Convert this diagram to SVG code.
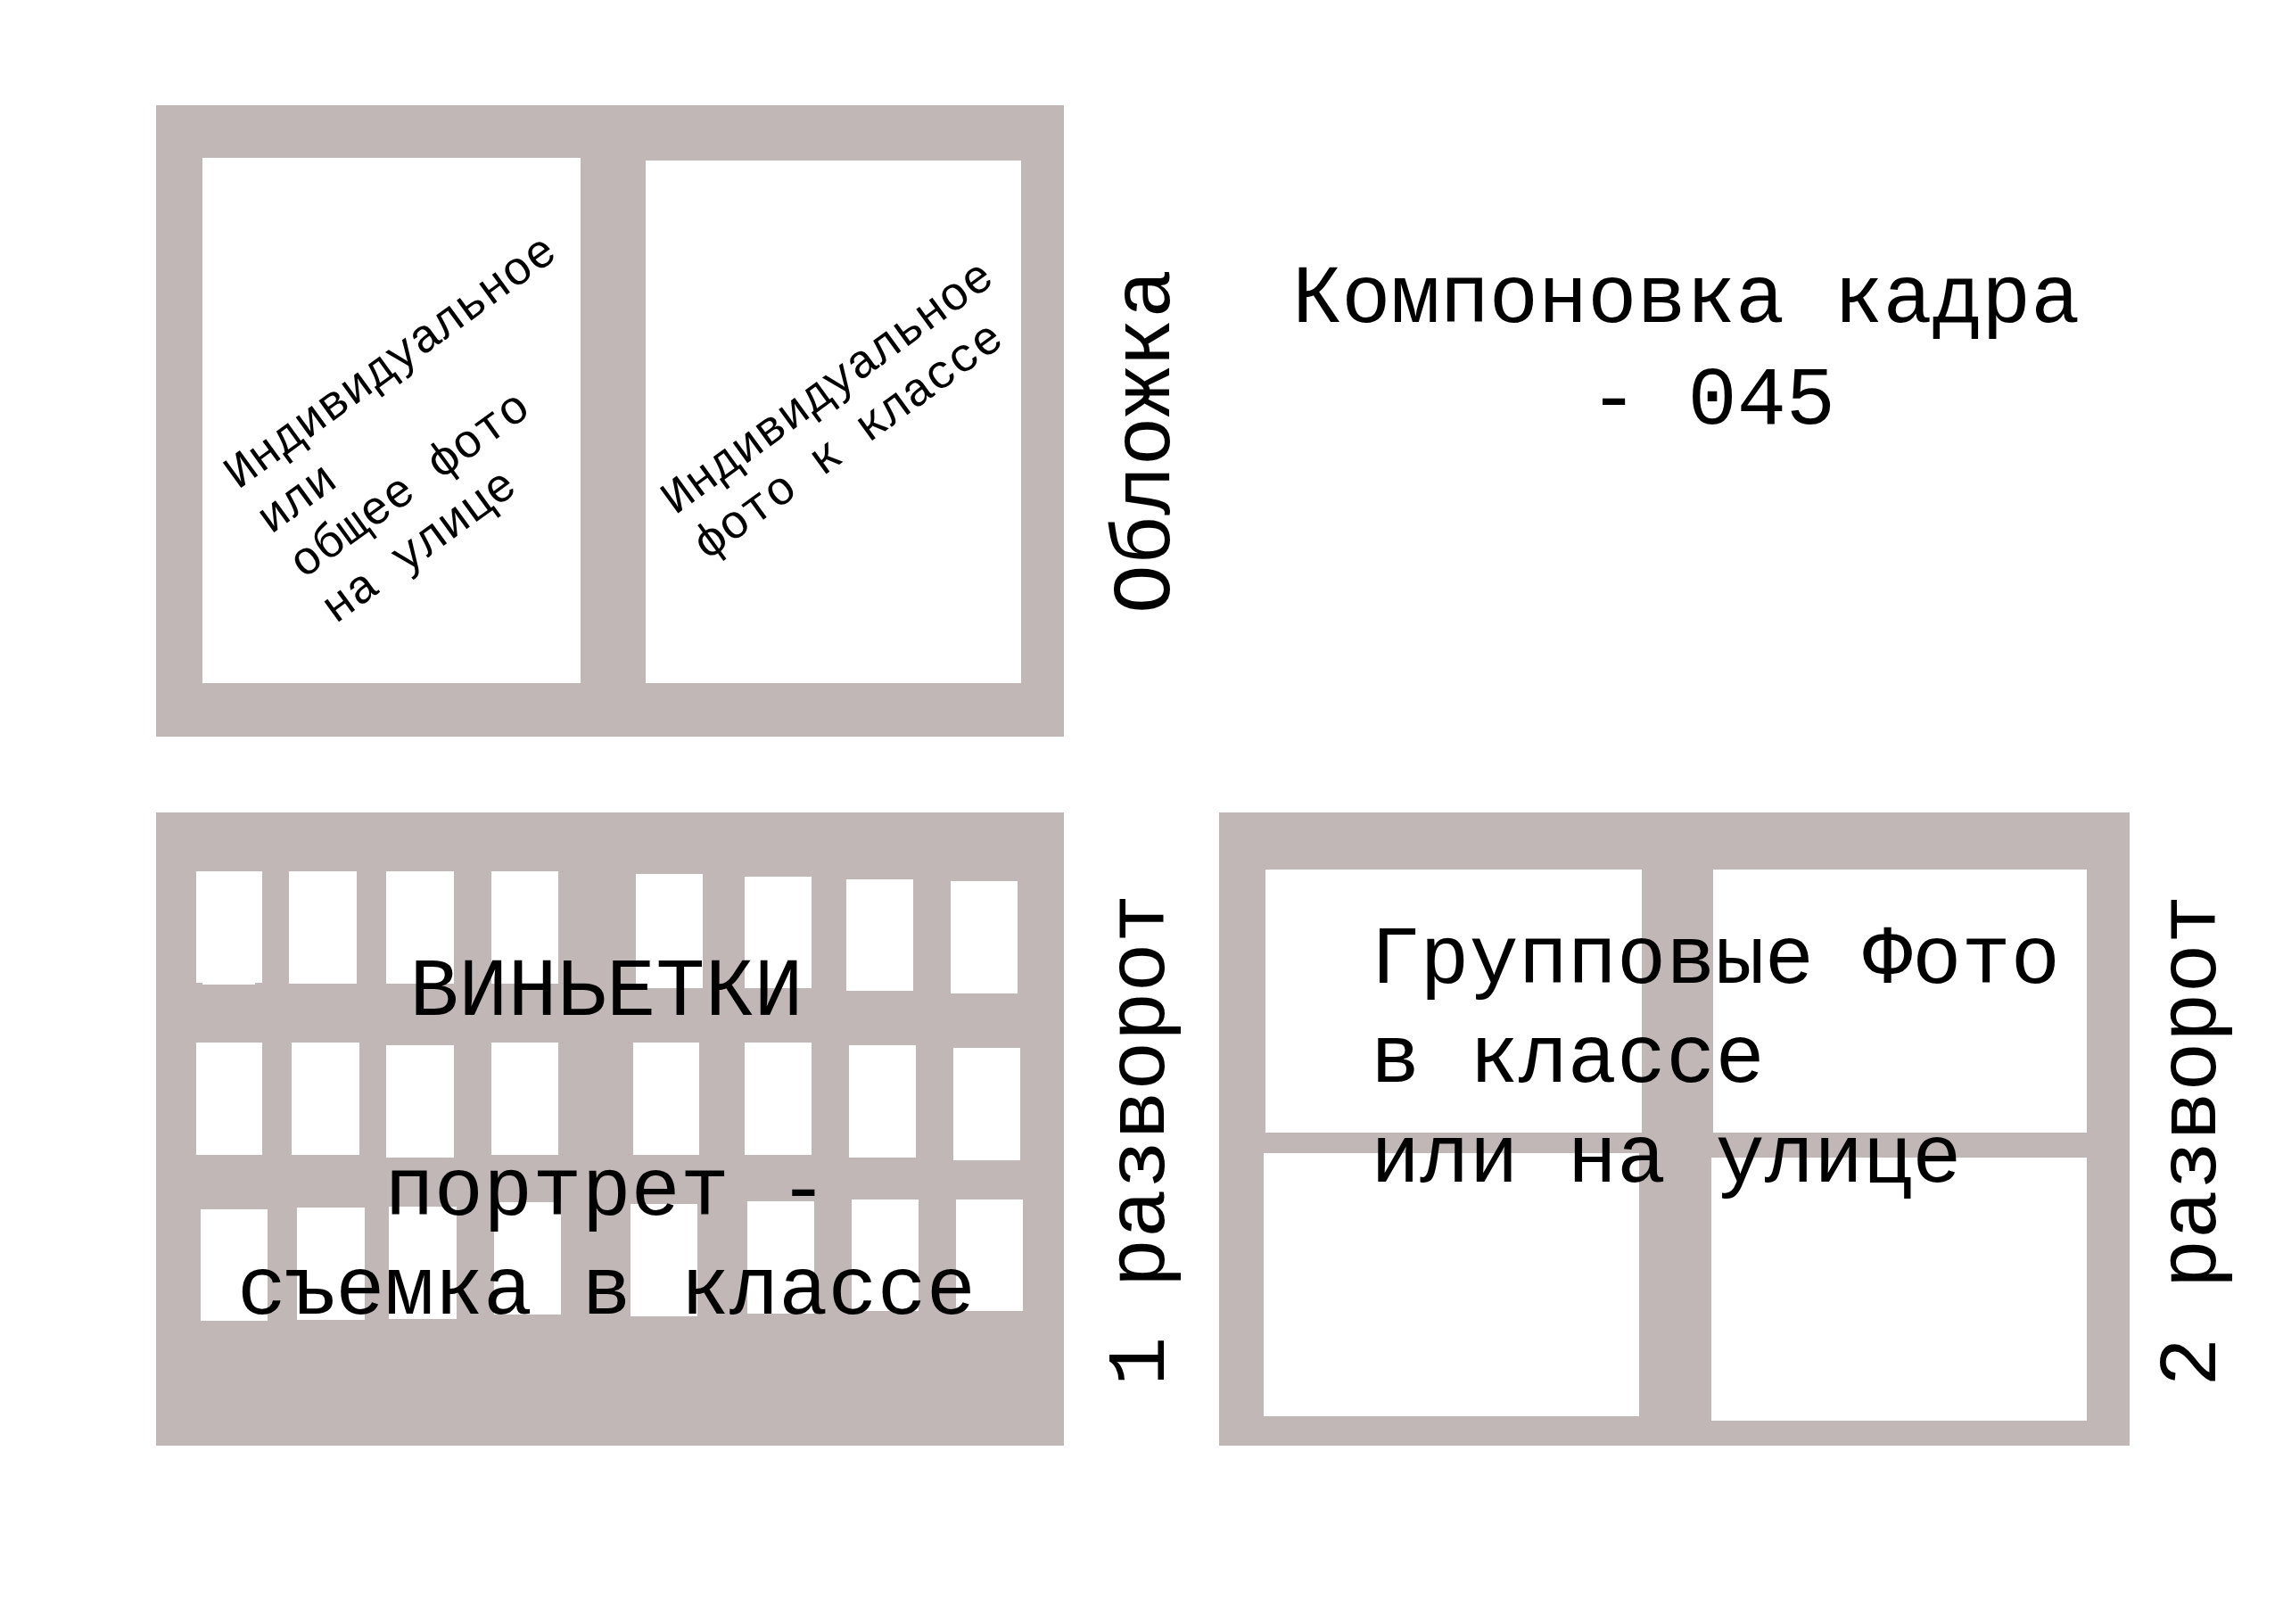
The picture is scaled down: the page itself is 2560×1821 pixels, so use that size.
<svg xmlns="http://www.w3.org/2000/svg" width="2560" height="1821" viewBox="0 0 2560 1821">
<style>
.panel{fill:#C0B7B6}
.hole{fill:#FFFFFF}
.t{font-family:"Liberation Mono","Courier New",monospace;fill:#000000}
.big{font-size:92px}
.small{font-size:53px}
</style>
<rect x="0" y="0" width="2560" height="1821" fill="#FFFFFF"/>
<g id="cover">
<rect class="panel" x="175" y="118" width="1018" height="708"/>
<rect class="hole" x="227" y="177" width="424" height="589"/>
<rect class="hole" x="724" y="180" width="421" height="586"/>
<g transform="translate(267,549.5) rotate(-36)">
<text class="t small" x="0" y="0">Индивидуальное</text>
<text class="t small" x="0" y="62">или</text>
<text class="t small" x="0" y="124">общее фото</text>
<text class="t small" x="0" y="186">на улице</text>
</g>
<g transform="translate(757,578) rotate(-36)">
<text class="t small" x="0" y="0">Индивидуальное</text>
<text class="t small" x="0" y="62">фото к классе</text>
</g>
<text class="t big" transform="translate(1311,495) rotate(-90)" text-anchor="middle" x="0" y="0">Обложка</text>
</g>
<g id="title">
<text class="t big" x="1449" y="361">Компоновка кадра</text>
<text class="t big" x="1782" y="475">- 045</text>
</g>
<g id="spread1">
<rect class="panel" x="175" y="911" width="1018" height="710"/>
<rect class="hole" x="220" y="977" width="74" height="125"/>
<rect class="hole" x="227" y="1100" width="59" height="4"/>
<rect class="hole" x="324" y="977" width="76" height="126"/>
<rect class="hole" x="433" y="977" width="76" height="126"/>
<rect class="hole" x="551" y="977" width="75" height="126"/>
<rect class="hole" x="713" y="980" width="75" height="128"/>
<rect class="hole" x="835" y="983" width="75" height="125"/>
<rect class="hole" x="949" y="986" width="75" height="125"/>
<rect class="hole" x="1066" y="988" width="75" height="126"/>
<rect class="hole" x="220" y="1169" width="74" height="126"/>
<rect class="hole" x="327" y="1169" width="76" height="126"/>
<rect class="hole" x="433" y="1172" width="76" height="126"/>
<rect class="hole" x="551" y="1169" width="75" height="126"/>
<rect class="hole" x="710" y="1169" width="74" height="126"/>
<rect class="hole" x="835" y="1169" width="75" height="126"/>
<rect class="hole" x="952" y="1172" width="75" height="126"/>
<rect class="hole" x="1069" y="1175" width="75" height="126"/>
<rect class="hole" x="225" y="1356" width="75" height="125"/>
<rect class="hole" x="333" y="1354" width="76" height="126"/>
<rect class="hole" x="436" y="1353" width="76" height="126"/>
<rect class="hole" x="554" y="1348" width="75" height="126"/>
<rect class="hole" x="707" y="1350" width="75" height="126"/>
<rect class="hole" x="838" y="1347" width="75" height="126"/>
<rect class="hole" x="955" y="1345" width="75" height="125"/>
<rect class="hole" x="1072" y="1345" width="75" height="125"/>
<text class="t big" x="680" y="1138" text-anchor="middle">ВИНЬЕТКИ</text>
<text class="t big" x="680" y="1362" text-anchor="middle">портрет -</text>
<text class="t big" x="680" y="1473" text-anchor="middle">съемка в классе</text>
<text class="t big" transform="translate(1305,1278) rotate(-90)" text-anchor="middle" x="0" y="0">1 разворот</text>
</g>
<g id="spread2">
<rect class="panel" x="1367" y="911" width="1021" height="710"/>
<rect class="hole" x="1419" y="975" width="422" height="295"/>
<rect class="hole" x="1921" y="975" width="419" height="295"/>
<rect class="hole" x="1417" y="1293" width="421" height="295"/>
<rect class="hole" x="1919" y="1298" width="421" height="295"/>
<text class="t big" x="1537" y="1102">Групповые Фото</text>
<text class="t big" x="1537" y="1213">в классе</text>
<text class="t big" x="1537" y="1325">или на улице</text>
<text class="t big" transform="translate(2484,1279) rotate(-90)" text-anchor="middle" x="0" y="0">2 разворот</text>
</g>
<g id="connectors"></g>
</svg>
